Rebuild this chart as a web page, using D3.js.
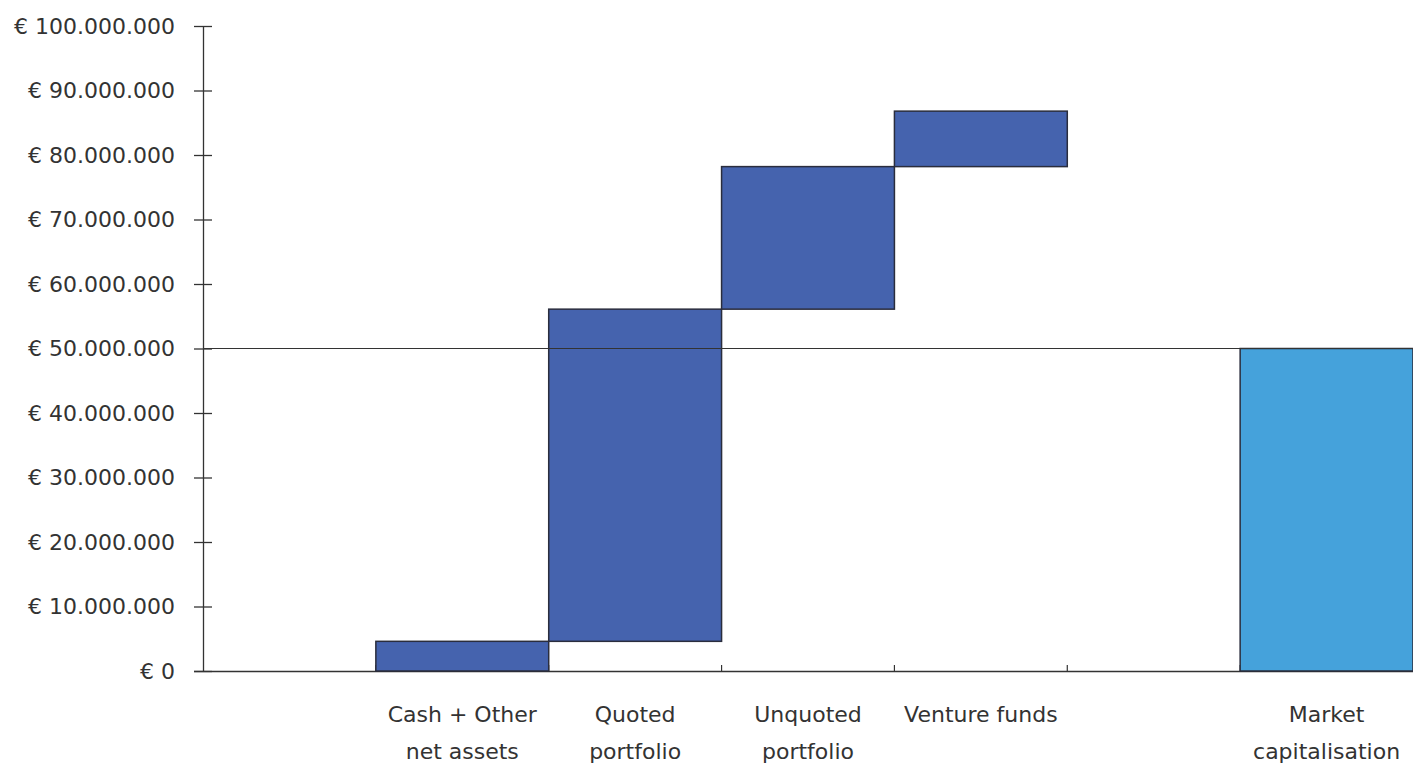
<!DOCTYPE html>
<html>
<head>
<meta charset="utf-8">
<script src="https://cdn.jsdelivr.net/npm/d3@7"></script>
<style>
  html, body { margin: 0; padding: 0; background: #fff; }
  svg { display: block; }
  text { font-family: "DejaVu Sans", Verdana, sans-serif; fill: #333; }
</style>
</head>
<body>
<svg id="chart" width="1413" height="765"></svg>
<script>
// Waterfall: components of net asset value vs. market capitalisation (EUR)
const categories = ["", "Cash + Other|net assets", "Quoted|portfolio", "Unquoted|portfolio", "Venture funds", " ", "Market|capitalisation"];
// Incremental contribution of each component (EUR); blank slots are empty
const increments = [0, 4600000, 51500000, 22100000, 8600000, 0, null];
const marketCap = 50000000;
const yTicks = [0, 10000000, 20000000, 30000000, 40000000, 50000000, 60000000, 70000000, 80000000, 90000000, 100000000];
const yTickLabels = ["€ 0", "€ 10.000.000", "€ 20.000.000", "€ 30.000.000", "€ 40.000.000", "€ 50.000.000", "€ 60.000.000", "€ 70.000.000", "€ 80.000.000", "€ 90.000.000", "€ 100.000.000"];

const svg = d3.select("#chart");
const margin = { left: 203, right: 0, top: 26, bottom: 94 };
const W = 1413, H = 765;

const x = d3.scaleBand().domain(d3.range(categories.length)).range([margin.left, W - margin.right]).padding(0);
const y = d3.scaleLinear().domain([0, 100000000]).range([H - margin.bottom, margin.top]);

// Build floating segments from the increments
let running = 0;
const bars = categories.map((c, i) => {
  if (increments[i] === null) {
    return { i, y0: 0, y1: marketCap, total: true };
  }
  const b = { i, y0: running, y1: running + increments[i], total: false };
  running += increments[i];
  if (increments[i] === 0) { b.y0 = 0; b.y1 = 0; }
  return b;
});

// Y axis
const yAxis = d3.axisLeft(y).tickValues(yTicks).tickFormat((d, i) => yTickLabels[i]).tickSize(0).tickPadding(28);
const gy = svg.append("g").attr("transform", `translate(${margin.left},0)`).call(yAxis);
gy.select(".domain").remove();
gy.selectAll(".tick text").attr("font-size", 22).attr("fill", "#333").attr("font-family", "DejaVu Sans, Verdana, sans-serif");
gy.selectAll(".tick").append("line").attr("x1", -9).attr("x2", 9).attr("stroke", "#333").attr("stroke-width", 1.3);
svg.append("line")
  .attr("x1", margin.left + 0.5).attr("x2", margin.left + 0.5)
  .attr("y1", y(100000000)).attr("y2", y(0))
  .attr("stroke", "#333").attr("stroke-width", 1.3);

// X axis baseline and inner ticks at category boundaries
svg.append("line")
  .attr("x1", margin.left - 9).attr("x2", W)
  .attr("y1", y(0) + 0.5).attr("y2", y(0) + 0.5)
  .attr("stroke", "#333").attr("stroke-width", 1.5);
svg.selectAll(".xtick").data(d3.range(1, categories.length)).enter().append("line")
  .attr("x1", d => x(d)).attr("x2", d => x(d))
  .attr("y1", y(0)).attr("y2", y(0) - 6)
  .attr("stroke", "#333").attr("stroke-width", 1.2);

// Bars
svg.selectAll(".bar").data(bars).enter().append("rect")
  .attr("x", d => x(d.i))
  .attr("width", x.bandwidth())
  .attr("y", d => y(d.y1))
  .attr("height", d => Math.max(0, y(d.y0) - y(d.y1)))
  .attr("fill", d => d.total ? "#45A2DB" : "#4563AE")
  .attr("stroke", "#2a2d3d")
  .attr("stroke-width", d => (d.y1 === d.y0) ? 3 : 1.5);

// Reference line at market capitalisation level
svg.append("line")
  .attr("x1", margin.left).attr("x2", W)
  .attr("y1", y(marketCap)).attr("y2", y(marketCap))
  .attr("stroke", "#333").attr("stroke-width", 1.2);

// Category labels (two lines)
const lab = svg.selectAll(".xlab").data(categories).enter().append("text")
  .attr("class", "xlab")
  .attr("text-anchor", "middle")
  .attr("font-size", 22)
  .attr("x", (d, i) => x(i) + x.bandwidth() / 2)
  .attr("y", y(0) + 51);
lab.each(function(d) {
  const parts = d.trim() ? d.split("|") : [];
  const t = d3.select(this);
  parts.forEach((p, k) => {
    t.append("tspan").attr("x", t.attr("x")).attr("dy", k === 0 ? 0 : 37).text(p);
  });
});
</script>
</body>
</html>
